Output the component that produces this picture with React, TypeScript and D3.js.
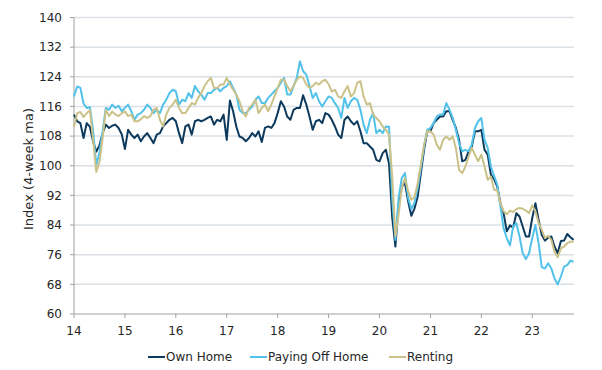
import React from 'react';
import * as d3 from 'd3';

// weekly-ish index readings, 16 samples per year starting at the start of 2014
const startYear = 14;
const samplesPerYear = 16;

const ownHome = [
  113.8, 112.0, 111.5, 107.5, 111.5, 110.5, 106.5, 103.8, 105.5, 108.8, 111.1, 110.2, 110.8, 111.1, 110.2, 108.5,
  104.5, 109.7, 108.4, 107.5, 108.4, 106.6, 107.9, 108.8, 107.5, 106.1, 108.4, 108.8, 110.6, 111.5, 112.4, 112.9,
  112.0, 108.8, 106.1, 110.6, 111.1, 108.4, 112.0, 112.4, 112.0, 112.4, 112.9, 113.3, 111.1, 112.4, 112.0, 113.8,
  107.0, 117.6, 114.7, 110.6, 107.9, 107.5, 106.6, 107.5, 108.8, 107.9, 109.3, 106.4, 110.2, 110.6, 110.2, 111.5,
  114.2, 117.4, 116.0, 113.3, 112.4, 115.1, 115.6, 115.6, 119.0, 116.5, 113.3, 109.7, 112.0, 112.4, 111.5, 114.2,
  113.8, 112.4, 110.6, 108.4, 107.5, 112.4, 113.3, 112.0, 111.1, 112.0, 109.3, 106.1, 106.1, 105.2, 104.3, 101.6,
  101.2, 103.4, 104.3, 100.5, 86.0, 78.2, 89.5, 94.4, 95.3, 90.4, 86.5, 88.5, 91.7, 98.0, 104.3, 109.3,
  109.3, 111.5, 112.4, 113.3, 113.3, 114.7, 114.7, 112.4, 110.2, 107.0, 101.2, 101.6, 103.9, 105.2, 109.3, 109.3,
  109.7, 104.3, 103.0, 97.6, 96.4, 94.4, 89.9, 87.2, 82.3, 83.9, 83.3, 87.2, 86.3, 83.6, 80.9, 80.9,
  85.9, 89.9, 85.4, 81.3, 79.8, 80.6, 80.9, 78.2, 76.4, 79.7, 79.8, 81.6, 80.7, 80.0,
];

const payingOffHome = [
  118.7, 121.4, 121.0, 116.8, 115.6, 115.8, 109.5, 100.2, 103.5, 109.3, 115.6, 115.1, 116.5, 115.6, 116.2, 114.7,
  115.6, 116.5, 114.7, 112.4, 113.8, 114.2, 115.1, 116.5, 115.6, 114.2, 115.1, 114.2, 116.5, 117.8, 119.6, 120.5,
  120.1, 116.5, 117.8, 117.4, 119.6, 118.3, 121.5, 120.1, 119.2, 117.8, 119.6, 119.6, 120.5, 121.0, 120.1, 121.0,
  121.5, 122.8, 121.0, 119.2, 115.1, 114.2, 114.2, 115.1, 116.0, 117.8, 118.7, 116.9, 116.9, 118.3, 119.2, 120.1,
  121.0, 122.4, 123.7, 119.2, 119.2, 121.5, 123.7, 128.2, 125.5, 124.6, 121.5, 118.3, 119.6, 117.4, 116.0, 117.4,
  118.7, 118.3, 116.9, 115.6, 112.9, 118.3, 115.6, 117.4, 118.3, 117.8, 115.1, 111.1, 108.8, 112.4, 114.2, 108.8,
  109.7, 108.8, 110.6, 110.5, 91.0, 80.0, 91.3, 96.7, 98.0, 91.3, 88.3, 90.0, 94.0, 99.4, 105.2, 109.7,
  110.2, 111.5, 113.3, 113.8, 113.8, 116.9, 115.1, 112.9, 109.7, 106.1, 103.9, 104.3, 103.9, 105.7, 110.2, 112.0,
  112.9, 107.0, 104.8, 99.8, 97.3, 94.9, 89.0, 83.1, 80.5, 78.5, 83.6, 84.5, 80.9, 76.4, 74.8, 76.4,
  80.5, 84.0, 79.1, 72.6, 72.3, 73.7, 72.3, 69.6, 68.0, 70.1, 72.8, 73.2, 74.4, 74.1,
];

const renting = [
  110.5, 114.2, 114.5, 113.2, 114.2, 115.0, 107.0, 98.3, 101.0, 107.5, 115.1, 113.4, 114.6, 113.8, 113.4, 114.2,
  114.7, 113.4, 113.8, 112.0, 112.0, 112.5, 113.4, 112.9, 113.4, 115.1, 115.6, 112.4, 110.6, 113.8, 115.6, 116.5,
  117.8, 115.6, 114.2, 114.2, 115.6, 116.9, 116.5, 118.3, 119.6, 121.5, 122.8, 123.7, 121.0, 121.0, 121.9, 121.9,
  123.7, 121.9, 120.5, 119.2, 117.4, 114.7, 113.3, 115.6, 116.5, 117.8, 114.2, 115.6, 116.5, 114.7, 116.5, 118.7,
  121.0, 123.2, 123.2, 121.5, 120.1, 121.5, 123.2, 124.1, 123.7, 121.9, 121.0, 121.5, 122.4, 121.9, 122.8, 123.2,
  122.0, 120.0, 120.5, 118.7, 118.3, 120.1, 121.5, 118.7, 119.6, 122.4, 122.8, 118.7, 116.5, 116.9, 113.8, 112.9,
  112.0, 110.6, 109.7, 108.4, 97.0, 81.0, 86.8, 94.0, 96.7, 93.1, 90.8, 91.5, 95.3, 100.3, 105.7, 109.3,
  109.3, 108.4, 105.7, 104.3, 107.0, 107.9, 107.0, 107.9, 104.8, 98.9, 98.0, 99.8, 102.5, 104.8, 103.0, 101.2,
  103.0, 99.8, 96.2, 97.1, 93.5, 93.3, 89.9, 87.7, 86.9, 87.9, 87.5, 88.3, 88.6, 88.4, 87.9, 87.2,
  89.3, 87.7, 84.5, 82.7, 80.5, 81.1, 80.0, 76.8, 75.3, 77.7, 78.2, 79.1, 79.5, 79.5,
];

const seriesNames = ['Own Home', 'Paying Off Home', 'Renting'];
const seriesColors = ['#0d3a5c', '#52c2ea', '#cbc28a'];
const xTicks = [14, 15, 16, 17, 18, 19, 20, 21, 22, 23];
const yTicks = [60, 68, 76, 84, 92, 100, 108, 116, 124, 132, 140];
const yTitle = 'Index (4-week ma)';

const width = 602;
const height = 370;
const margin = { top: 17.5, right: 28, bottom: 56, left: 74 };
const font = '"DejaVu Sans", Verdana, sans-serif';
const textColor = '#262626';

export default function App() {
  const x = d3
    .scaleLinear()
    .domain([14, 23.82])
    .range([margin.left, width - margin.right]);
  const y = d3
    .scaleLinear()
    .domain([60, 140])
    .range([height - margin.bottom, margin.top]);

  const allSeries = [ownHome, payingOffHome, renting];
  const line = d3
    .line<number>()
    .x((_, i) => x(startYear + i / samplesPerYear))
    .y((d) => y(d));

  const plotBottom = y(60);
  const legendY = 357;
  const legendItems = [
    { x: 148, name: seriesNames[0], color: seriesColors[0] },
    { x: 250, name: seriesNames[1], color: seriesColors[1] },
    { x: 389, name: seriesNames[2], color: seriesColors[2] },
  ];

  return (
    <svg
      width={width}
      height={height}
      style={{ position: 'absolute', left: 0, top: 0, background: '#fff' }}
      fontFamily={font}
    >
      {/* gridlines */}
      {yTicks.slice(1).map((t) => (
        <line
          key={t}
          x1={x(14)}
          x2={width - margin.right}
          y1={y(t)}
          y2={y(t)}
          stroke="#dae0e6"
          strokeWidth={1.5}
        />
      ))}

      {/* axes */}
      <line x1={x(14)} x2={x(14)} y1={y(140)} y2={plotBottom} stroke="#a0a0a0" />
      <line x1={x(14)} x2={width - margin.right} y1={plotBottom} y2={plotBottom} stroke="#a0a0a0" />
      {yTicks.map((t) => (
        <g key={t}>
          <line x1={x(14) - 4} x2={x(14)} y1={y(t)} y2={y(t)} stroke="#a0a0a0" />
          <text
            x={62}
            y={y(t)}
            dy="0.35em"
            textAnchor="end"
            fontSize={12}
            fill={textColor}
          >
            {t}
          </text>
        </g>
      ))}
      {xTicks.map((t) => (
        <g key={t}>
          <line x1={x(t)} x2={x(t)} y1={plotBottom} y2={plotBottom + 4} stroke="#a0a0a0" />
          <text x={x(t)} y={335} textAnchor="middle" fontSize={12} fill={textColor}>
            {t}
          </text>
        </g>
      ))}

      <text
        transform={`translate(33, 169) rotate(-90)`}
        textAnchor="middle"
        fontSize={13}
        fill={textColor}
      >
        {yTitle}
      </text>

      {/* series, drawn in legend order */}
      {allSeries.map((s, i) => (
        <path
          key={seriesNames[i]}
          d={line(s) || ''}
          fill="none"
          stroke={seriesColors[i]}
          strokeWidth={2}
          strokeLinejoin="round"
        />
      ))}

      {/* legend */}
      {legendItems.map((item) => (
        <g key={item.name}>
          <line
            x1={item.x}
            x2={item.x + 17}
            y1={legendY}
            y2={legendY}
            stroke={item.color}
            strokeWidth={2}
          />
          <text x={item.x + 18} y={legendY} dy="0.35em" fontSize={12} fill={textColor}>
            {item.name}
          </text>
        </g>
      ))}
    </svg>
  );
}
